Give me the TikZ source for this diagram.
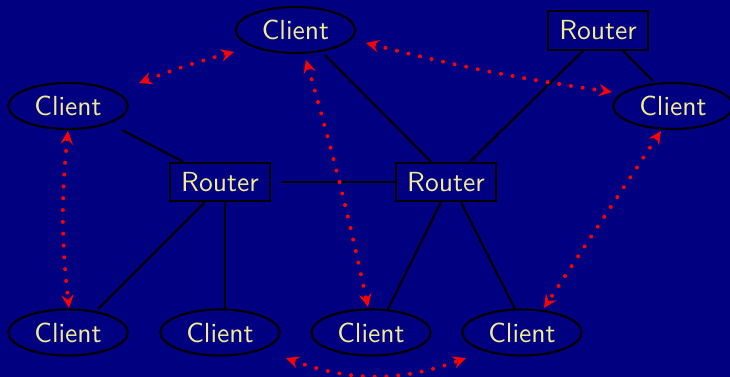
\documentclass[tikz,border=0pt]{standalone}
\usetikzlibrary{arrows.meta,calc,shapes.geometric}
\definecolor{bg}{RGB}{0,0,128}
\definecolor{txt}{RGB}{242,234,150}
\begin{document}
\begin{tikzpicture}[
  font=\sffamily\fontsize{10.4}{12}\selectfont,
  client/.style={ellipse,draw=black,line width=0.8pt,text=txt,minimum width=1.58cm,minimum height=0.61cm,inner sep=0pt},
  router/.style={rectangle,draw=black,line width=0.8pt,text=txt,minimum width=1.32cm,minimum height=0.51cm,inner sep=0pt},
  wire/.style={draw=black,line width=0.8pt},
  tipstyle/.style={Stealth[length=5pt,width=4.8pt,inset=1.9pt,line cap=butt,line width=0pt]},
  flow/.style={draw=red,line width=1.5pt,line cap=round,dash pattern=on 0.01pt off 4.45pt,
     {Stealth[length=5pt,width=4.8pt,inset=1.9pt,line cap=butt,line width=0pt]}-{Stealth[length=5pt,width=4.8pt,inset=1.9pt,line cap=butt,line width=0pt]}}
]
\fill[bg] (0,0) rectangle (9.669,4.993);
\useasboundingbox (0,0) rectangle (9.669,4.993);

\node[client] (tc) at (3.914,4.596) {Client};
\node[client] (lc) at (0.901,3.589) {Client};
\node[client] (rc) at (8.914,3.589) {Client};
\node[router] (lr) at (2.914,2.583) {Router};
\node[router] (mr) at (5.907,2.583) {Router};
\node[router] (tr) at (7.921,4.589) {Router};
\node[client] (b1) at (0.901,0.589) {Client};
\node[client] (b2) at (2.914,0.589) {Client};
\node[client] (b3) at (4.914,0.589) {Client};
\node[client] (b4) at (6.914,0.589) {Client};

% wires
\draw[wire] ($(lc)+(0.715,-0.318)$) -- ($(lr.north)+(-0.49,0)$);
\draw[wire] ($(lr)+(0.821,0)$) -- (mr.west);
\draw[wire] ($(tc)+(0.391,-0.331)$) -- ($(mr.north)+(-0.199,0)$);
\draw[wire] ($(tr.south)+(-0.199,0)$) -- ($(mr.north)+(0.318,0)$);
\draw[wire] ($(tr.south)+(0.331,0)$) -- ($(rc)+(-0.265,0.331)$);
\draw[wire] ($(lr.south)+(-0.199,0)$) -- ($(b1)+(0.397,0.311)$);
\draw[wire] ($(lr.south)+(0.066,0)$) -- ($(b2)+(0.066,0.311)$);
\draw[wire] ($(mr.south)+(-0.066,0)$) -- ($(b3)+(0.225,0.311)$);
\draw[wire] ($(mr.south)+(0.199,0)$) -- ($(b4)+(-0.093,0.311)$);

% flows
\draw[flow] ($(tc)+(-0.815,-0.291)$) to[bend right=3] ($(lc)+(0.940,0.305)$);
\draw[flow] ($(tc)+(0.934,-0.172)$) to[bend right=3] ($(rc)+(-0.808,0.185)$);
\draw[flow] ($(lc)+(0,-0.331)$) to[bend right=6] ($(b1)+(0.013,0.325)$);
\draw[flow] ($(tc)+(0.139,-0.397)$) to[bend left=2] ($(b3)+(-0.040,0.338)$);
\draw[flow] ($(rc)+(-0.159,-0.331)$) -- ($(b4)+(0.291,0.325)$);
\draw[flow] ($(b3)+(-1.126,-0.338)$) to[bend right=20] ($(b4)+(-0.742,-0.338)$);
\end{tikzpicture}
\end{document}
